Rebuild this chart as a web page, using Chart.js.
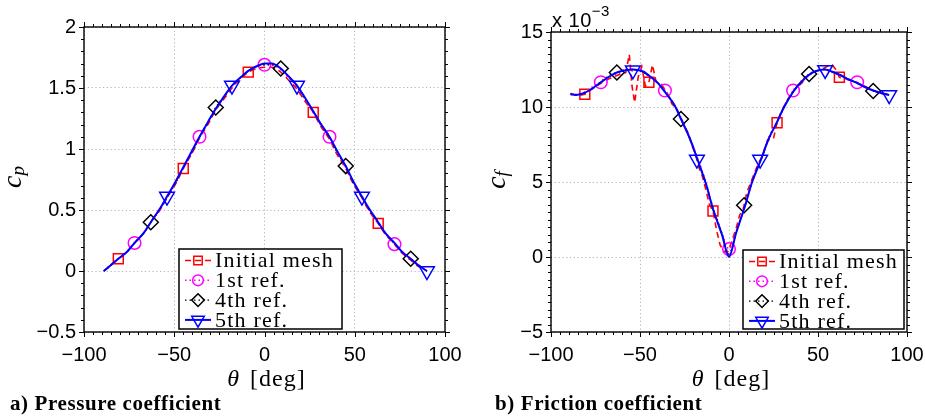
<!DOCTYPE html>
<html><head><meta charset="utf-8">
<script src="https://cdn.jsdelivr.net/npm/chart.js@4/dist/chart.umd.min.js"></script>
<style>
html,body{margin:0;padding:0;background:#fff;width:925px;height:416px;overflow:hidden}
canvas{position:absolute;top:0}
#c1{left:0}#c2{left:462px}
</style></head><body>
<canvas id="c1" width="462" height="416"></canvas>
<canvas id="c2" width="463" height="416"></canvas>
<script>
// ---------- Pressure coefficient (a) ----------
const cpTheta = [-89,-85,-81,-76,-72,-67,-63,-58,-54,-49,-45,-40,-36,-31,-27,-22,-18,-13,-9,-4,0,4,9,13,18,22,27,31,36,40,45,49,54,58,63,67,72,76,81,85,90];
const cpRef5 = [0.00,0.05,0.10,0.16,0.23,0.31,0.40,0.51,0.61,0.74,0.85,0.99,1.10,1.23,1.33,1.44,1.52,1.59,1.64,1.68,1.70,1.70,1.66,1.60,1.52,1.43,1.31,1.21,1.10,0.99,0.86,0.74,0.61,0.51,0.40,0.31,0.23,0.16,0.10,0.05,0.00];
const cpRef4 = [0.00,0.05,0.10,0.16,0.23,0.31,0.40,0.51,0.61,0.73,0.85,0.98,1.10,1.23,1.34,1.44,1.52,1.59,1.64,1.68,1.69,1.69,1.66,1.60,1.52,1.42,1.31,1.21,1.10,0.98,0.86,0.73,0.61,0.50,0.40,0.31,0.23,0.16,0.10,0.05,0.00];
const cpRef1 = [0.00,0.05,0.10,0.16,0.23,0.31,0.40,0.50,0.60,0.73,0.84,0.98,1.10,1.22,1.33,1.43,1.51,1.59,1.64,1.68,1.69,1.69,1.65,1.59,1.51,1.42,1.30,1.20,1.10,0.98,0.85,0.73,0.60,0.50,0.40,0.31,0.22,0.16,0.10,0.05,0.00];
const cpInit = [0.00,0.05,0.10,0.16,0.23,0.31,0.40,0.50,0.60,0.72,0.84,0.97,1.09,1.21,1.32,1.42,1.50,1.58,1.63,1.66,1.67,1.67,1.63,1.57,1.49,1.40,1.30,1.19,1.08,0.96,0.84,0.72,0.60,0.49,0.39,0.30,0.22,0.15,0.09,0.04,0.00];
const cpSqTheta = [-81,-45,-9,27,63];   const cpSq = [0.10,0.84,1.63,1.30,0.39];
const cpCiTheta = [-72,-36,0,36,72];    const cpCi = [0.23,1.10,1.69,1.10,0.22];
const cpDiTheta = [-63,-27,9,45,81];    const cpDi = [0.40,1.34,1.66,0.86,0.10];
const cpTrTheta = [-54,-18,18,54,90];   const cpTr = [0.61,1.52,1.52,0.61,0.00];

// ---------- Friction coefficient (b), values in units of 1e-3 ----------
const cfTheta = [-89,-86,-81,-76,-72,-67,-63,-58,-54,-49,-45,-40,-36,-31,-27,-22,-18,-13,-9,-4,0,4,9,13,18,22,27,31,36,40,45,49,54,58,63,67,72,76,81,85,90];
const cfRef5 = [10.85,10.8,10.95,11.3,11.65,12.05,12.3,12.45,12.5,12.4,12.1,11.6,11.0,10.2,9.2,7.9,6.6,4.9,3.2,1.5,0.0,1.6,3.4,5.0,6.5,7.8,9.0,10.0,11.0,11.6,12.15,12.4,12.5,12.35,12.1,11.85,11.6,11.35,11.1,10.95,10.8];
const cfRef4 = [10.85,10.8,10.95,11.3,11.7,12.1,12.3,12.45,12.5,12.35,12.1,11.6,11.05,10.2,9.2,7.9,6.6,4.9,3.3,1.6,0.2,1.6,3.45,5.0,6.5,7.8,9.0,10.1,11.0,11.65,12.2,12.4,12.5,12.35,12.1,11.85,11.6,11.35,11.07,10.95,10.8];
const cfRef1 = [10.9,10.85,11.0,11.4,11.65,12.1,12.2,12.5,12.4,12.5,12.0,11.6,11.1,10.2,9.3,7.9,6.7,5.0,3.2,1.6,0.53,1.7,3.4,5.1,6.5,7.9,9.0,10.0,11.1,11.6,12.1,12.4,12.5,12.3,12.1,11.8,11.65,11.35,11.1,10.95,10.8];
const cfInitTheta = [-89,-85,-81,-77,-73,-69,-65,-61,-58,-56,-54.5,-53,-51,-49,-47,-45,-43,-41,-38,-35,-32,-29,-27,-25,-23,-21,-19,-17,-15,-13,-11,-9,-7,-5,-3,-1,0,2,4,6,8,10,13,16,19,22,25,27,29,32,35,38,41,43,46,49,52,55,58,60,62,65,68,72,76,81,85,90];
const cfInit = [10.9,10.75,10.85,11.2,11.5,11.8,12.0,12.2,12.3,13.5,11.4,10.3,12.0,12.7,11.4,11.65,12.8,11.7,11.5,11.0,10.2,9.8,9.3,8.7,8.3,7.5,6.9,6.0,5.4,4.5,3.5,3.07,1.8,0.8,0.4,0.3,0.5,1.2,1.9,2.8,3.2,4.3,5.2,6.1,6.8,7.8,7.9,8.95,9.6,10.3,10.9,11.3,11.6,12.0,12.2,12.4,12.5,12.7,12.8,12.5,11.98,11.9,11.8,11.6,11.4,11.1,10.9,10.8];
const cfSqTheta = [-81,-45,-9,27,62];   const cfSq = [10.85,11.65,3.07,8.95,11.98];
const cfCiTheta = [-72,-36,0,36,72];    const cfCi = [11.65,11.1,0.53,11.1,11.65];
const cfDiTheta = [-63,-27,8.5,45,81];  const cfDi = [12.3,9.2,3.45,12.2,11.07];
const cfTrTheta = [-54,-18,17.5,54,90]; const cfTr = [12.45,6.5,6.5,12.47,10.8];

// ---------- labels ----------
const seriesLabels = ['Initial mesh','1st ref.','4th ref.','5th ref.'];
const captions = ['a) Pressure coefficient','b) Friction coefficient'];
const xTitle = ['\u03B8', '[deg]'];

// ---------- styles ----------
const RED='#ff0000', MAG='#ff00ff', BLK='#000000', BLUE='#0000ff';
const STY = [
  {color:RED,  dash:[6,4],   width:1.6, style:'rect',     radius:7,   rot:0},
  {color:MAG,  dash:[1.5,3], width:1.6, style:'circle',   radius:6.3, rot:0},
  {color:BLK,  dash:[1.5,3], width:1.4, style:'rectRot',  radius:7.5, rot:0},
  {color:BLUE, dash:[],      width:2,   style:'triangle', radius:8.5, rot:180}
];
const SANS = "'Liberation Sans', Arial, Helvetica, sans-serif";
const SERIF = "'Liberation Serif', 'Times New Roman', serif";

const zip = (xs, ys) => xs.map((x, i) => ({x, y: ys[i]}));
function lineDs(i, xs, ys, order, extra){
  const s = STY[i];
  return Object.assign({type:'line', label:seriesLabels[i], data:zip(xs,ys), borderColor:s.color,
    borderWidth:s.width, borderDash:s.dash, pointRadius:0, pointHoverRadius:0, fill:false, order}, extra||{});
}
function markDs(i, xs, ys, order){
  const s = STY[i];
  return {type:'scatter', label:seriesLabels[i]+' markers', data:zip(xs,ys), showLine:false,
    pointStyle:s.style, pointRadius:s.radius, pointHoverRadius:s.radius, pointRotation:s.rot,
    pointBorderColor:s.color, pointBackgroundColor:'rgba(0,0,0,0)', pointBorderWidth:1.5, order};
}
const fmt = v => String(v).replace('-', '\u2212');

function framePlugin(xMinor, yMinor){
  return {id:'frame', afterDatasetsDraw(chart){
    const {ctx, chartArea:a, scales:{x, y}} = chart;
    ctx.save();
    ctx.strokeStyle = '#000'; ctx.lineWidth = 1; ctx.setLineDash([]);
    ctx.beginPath();
    let n = Math.round((x.max - x.min)/xMinor);
    for (let i = 0; i <= n; i++){
      const px = Math.round(x.getPixelForValue(x.min + i*xMinor)) + 0.5;
      ctx.moveTo(px, a.bottom); ctx.lineTo(px, a.bottom + 3);
      ctx.moveTo(px, a.top); ctx.lineTo(px, a.top - 3);
    }
    n = Math.round((y.max - y.min)/yMinor);
    for (let i = 0; i <= n; i++){
      const py = Math.round(y.getPixelForValue(y.min + i*yMinor)) + 0.5;
      ctx.moveTo(a.left, py); ctx.lineTo(a.left - 3, py);
      ctx.moveTo(a.right, py); ctx.lineTo(a.right + 3, py);
    }
    x.ticks.forEach(t => {
      const px = Math.round(x.getPixelForValue(t.value)) + 0.5;
      ctx.moveTo(px, a.bottom); ctx.lineTo(px, a.bottom + 5);
      ctx.moveTo(px, a.top); ctx.lineTo(px, a.top - 5);
    });
    y.ticks.forEach(t => {
      const py = Math.round(y.getPixelForValue(t.value)) + 0.5;
      ctx.moveTo(a.left, py); ctx.lineTo(a.left - 5, py);
      ctx.moveTo(a.right, py); ctx.lineTo(a.right + 5, py);
    });
    ctx.stroke();
    ctx.lineWidth = 1.4;
    ctx.strokeRect(a.left, a.top, a.right - a.left, a.bottom - a.top);
    ctx.restore();
  }};
}

function drawMarker(ctx, s, x, y){
  ctx.save();
  ctx.strokeStyle = s.color; ctx.lineWidth = 1.5; ctx.setLineDash([]);
  ctx.fillStyle = 'rgba(0,0,0,0)';
  if (Chart.helpers && Chart.helpers.drawPoint){
    Chart.helpers.drawPoint(ctx, {pointStyle:s.style, rotation:s.rot, radius:s.radius, borderWidth:1.5}, x, y);
  }
  ctx.restore();
}

function annotPlugin(o){
  return {id:'annot', afterDraw(chart){
    const {ctx, chartArea:a} = chart;
    ctx.save();
    ctx.fillStyle = '#000';
    // y-axis title  c_sub
    ctx.translate(o.yTitleX, o.yTitleY);
    ctx.rotate(-Math.PI/2);
    ctx.font = 'italic 28px ' + SERIF;
    const wc = ctx.measureText('c').width;
    ctx.font = 'italic 19px ' + SERIF;
    const ws = ctx.measureText(o.sub).width;
    const st = -(wc + ws)/2;
    ctx.textBaseline = 'alphabetic';
    ctx.font = 'italic 28px ' + SERIF;
    ctx.fillText('c', st, 0);
    ctx.font = 'italic 19px ' + SERIF;
    ctx.fillText(o.sub, st + wc, 3);
    ctx.restore();

    // x-axis title
    ctx.save();
    ctx.fillStyle = '#000';
    ctx.textBaseline = 'alphabetic';
    ctx.font = 'italic 24px ' + SERIF;
    const wt = ctx.measureText(xTitle[0]).width;
    ctx.font = '24px ' + SERIF;
    ctx.letterSpacing = '1px';
    const wd = ctx.measureText(xTitle[1]).width;
    const gap = 11;
    const cx = (a.left + a.right)/2 + 2;
    let sx = cx - (wt + gap + wd)/2;
    ctx.font = 'italic 24px ' + SERIF;
    ctx.letterSpacing = '0px';
    ctx.fillText(xTitle[0], sx, o.xTitleY);
    ctx.font = '24px ' + SERIF;
    ctx.letterSpacing = '1px';
    ctx.fillText(xTitle[1], sx + wt + gap, o.xTitleY);

    // caption
    ctx.font = 'bold 21px ' + SERIF;
    ctx.letterSpacing = '0.6px';
    ctx.fillText(o.caption, o.capX, o.capY);

    // exponent
    if (o.exp){
      ctx.letterSpacing = '0.5px';
      ctx.font = '20px ' + SANS;
      ctx.fillText('x 10', o.exp[0], o.exp[1]);
      const w10 = ctx.measureText('x 10').width;
      ctx.font = '15px ' + SANS;
      ctx.fillText('\u22123', o.exp[0] + w10, o.exp[1] - 11);
    }
    ctx.restore();

    // legend
    const L = o.legend;
    ctx.save();
    ctx.fillStyle = '#fff';
    ctx.fillRect(L.x, L.y, L.w, L.h);
    ctx.strokeStyle = '#000'; ctx.lineWidth = 1.5;
    ctx.strokeRect(L.x, L.y, L.w, L.h);
    for (let i = 0; i < 4; i++){
      const s = STY[i];
      const ry = L.y + 11.5 + i*19.8;
      ctx.save();
      ctx.strokeStyle = s.color; ctx.lineWidth = s.width; ctx.setLineDash(s.dash);
      ctx.beginPath(); ctx.moveTo(L.x + 6, ry); ctx.lineTo(L.x + 32, ry); ctx.stroke();
      ctx.restore();
      drawMarker(ctx, Object.assign({}, s, {radius: s.radius*0.85}), L.x + 19, ry);
      ctx.fillStyle = '#000';
      ctx.font = '22px ' + SERIF;
      ctx.letterSpacing = '1.2px';
      ctx.textBaseline = 'middle';
      ctx.fillText(seriesLabels[i], L.x + 36, ry + 1);
    }
    ctx.restore();
  }};
}

function scaleOpts(min, max, step, size, isY){
  const o = {
    type:'linear', min, max,
    ticks:{stepSize:step, color:'#000', font:{family:SANS, size:20}, callback:fmt,
           padding: isY ? 8 : 11, maxRotation:0, autoSkip:false},
    grid:{color:'#b4b4b4', lineWidth:1, drawTicks:false},
    border:{display:false, dash:[1.2,2.6]}
  };
  o.afterFit = isY
    ? (s => { s.width = size; s.paddingTop = 0; s.paddingBottom = 0; })
    : (s => { s.height = size; s.paddingLeft = 0; s.paddingRight = 0; });
  return o;
}

Chart.defaults.animation = false;

new Chart(document.getElementById('c1'), {
  type:'line',
  data:{datasets:[
    lineDs(3, cpTheta, cpRef5, 0, {cubicInterpolationMode:'monotone'}),
    markDs(3, cpTrTheta, cpTr, 1),
    lineDs(2, cpTheta, cpRef4, 2, {cubicInterpolationMode:'monotone'}),
    markDs(2, cpDiTheta, cpDi, 3),
    lineDs(1, cpTheta, cpRef1, 4, {cubicInterpolationMode:'monotone'}),
    markDs(1, cpCiTheta, cpCi, 5),
    lineDs(0, cpTheta, cpInit, 6, {cubicInterpolationMode:'monotone'}),
    markDs(0, cpSqTheta, cpSq, 7)
  ]},
  options:{
    responsive:false, animation:false, events:[],
    layout:{padding:{left:0, right:17, top:27, bottom:0}},
    plugins:{legend:{display:false}, tooltip:{enabled:false}},
    scales:{
      x: scaleOpts(-100, 100, 50, 84, false),
      y: scaleOpts(-0.5, 2, 0.5, 84, true)
    }
  },
  plugins:[framePlugin(5, 0.1), annotPlugin({
    sub:'p', yTitleX:21, yTitleY:177, xTitleY:386,
    caption:captions[0], capX:10, capY:410,
    legend:{x:179, y:249, w:163, h:80}
  })]
});

new Chart(document.getElementById('c2'), {
  type:'line',
  data:{datasets:[
    lineDs(3, cfTheta, cfRef5, 0, {tension:0.3}),
    markDs(3, cfTrTheta, cfTr, 1),
    lineDs(2, cfTheta, cfRef4, 2, {tension:0.3}),
    markDs(2, cfDiTheta, cfDi, 3),
    lineDs(1, cfTheta, cfRef1, 4, {tension:0.3}),
    markDs(1, cfCiTheta, cfCi, 5),
    lineDs(0, cfInitTheta, cfInit, 6, {tension:0}),
    markDs(0, cfSqTheta, cfSq, 7)
  ]},
  options:{
    responsive:false, animation:false, events:[],
    layout:{padding:{left:0, right:18, top:32, bottom:0}},
    plugins:{legend:{display:false}, tooltip:{enabled:false}},
    scales:{
      x: scaleOpts(-100, 100, 50, 84, false),
      y: scaleOpts(-5, 15, 5, 89, true)
    }
  },
  plugins:[framePlugin(5, 0.5), annotPlugin({
    sub:'f', yTitleX:43, yTitleY:180, xTitleY:386,
    caption:captions[1], capX:33, capY:410,
    legend:{x:281, y:250, w:161, h:79},
    exp:[90, 27]
  })]
});
</script>
</body></html>
